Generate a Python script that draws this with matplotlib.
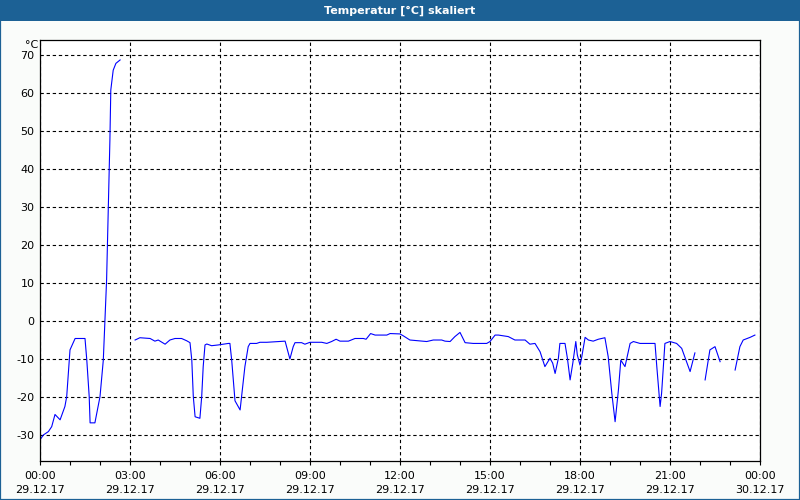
import matplotlib
matplotlib.use("Agg")
import matplotlib.pyplot as plt
from matplotlib.patches import Rectangle
import numpy as np

# Datos (horas desde 29.12.17 00:00, temperatura en °C)
# nan = hueco en la serie
horas = [0.00, 0.11, 0.28, 0.39, 0.50, 0.67, 0.83, 0.89, 1.00, 1.17,
         1.50, 1.56, 1.64, 1.67, 1.83, 2.00, 2.11, 2.22, 2.33, 2.36,
         2.44, 2.53, 2.67, 2.90,
         3.17, 3.33, 3.67, 3.83, 3.94, 4.17, 4.33, 4.50, 4.72, 4.89,
         5.00, 5.06, 5.11, 5.17, 5.33, 5.39, 5.44, 5.50, 5.56, 5.72,
         5.94, 6.28, 6.33, 6.39, 6.50, 6.67, 6.72, 6.83, 6.94, 7.00,
         7.22, 7.33, 7.56, 8.17, 8.22, 8.33, 8.44, 8.50, 8.72, 8.83,
         9.00, 9.39, 9.56, 9.72, 9.87, 10.00, 10.28, 10.50, 10.78, 10.87,
         11.02, 11.17, 11.56, 11.67, 12.00, 12.11, 12.33, 12.61, 12.89, 13.11,
         13.39, 13.50, 13.67, 13.83, 14.00, 14.17, 14.44, 14.89, 15.00, 15.17,
         15.28, 15.61, 15.83, 16.17, 16.33, 16.50, 16.67, 16.83, 17.00, 17.09,
         17.17, 17.28, 17.33, 17.50, 17.58, 17.67, 17.76, 17.86, 17.91, 18.00,
         18.06, 18.17, 18.28, 18.44, 18.61, 18.83, 18.94, 19.06, 19.17, 19.28,
         19.36, 19.50, 19.67, 19.78, 20.00, 20.50, 20.56, 20.67, 20.72, 20.83,
         21.00, 21.22, 21.39, 21.67, 21.83, 22.00,
         22.17, 22.33, 22.50, 22.67, 22.90,
         23.17, 23.33, 23.44, 23.67, 23.83]

temp = [-31.3, -30.0, -29.1, -27.8, -24.6, -26.0, -22.5, -19.9, -7.6, -4.6,
        -4.6, -10.3, -19.9, -26.8, -26.8, -19.9, -10.3, 10.8, 47.6, 60.8,
        66.0, 67.8, 68.7, np.nan,
        -5.0, -4.4, -4.6, -5.3, -5.0, -6.1, -5.0, -4.6, -4.6, -5.2,
        -5.7, -10.3, -19.9, -25.2, -25.6, -19.9, -12.0, -6.3, -6.05, -6.5,
        -6.3, -5.9, -5.9, -10.3, -21.0, -23.4, -19.9, -12.0, -6.75, -5.9,
        -5.9, -5.6, -5.6, -5.3, -6.75, -10.0, -6.75, -5.7, -5.7, -6.1,
        -5.6, -5.6, -5.9, -5.4, -4.8, -5.3, -5.3, -4.6, -4.6, -4.8,
        -3.3, -3.7, -3.7, -3.3, -3.4, -3.9, -5.0, -5.2, -5.4, -5.0,
        -5.0, -5.3, -5.4, -4.1, -3.0, -5.7, -5.9, -5.9, -5.4, -3.7,
        -3.7, -4.1, -5.0, -5.0, -6.1, -5.9, -8.1, -12.0, -9.8, -11.1,
        -13.8, -9.8, -5.9, -5.9, -9.8, -15.5, -11.1, -5.4, -8.9, -11.6,
        -9.4, -4.3, -5.0, -5.3, -4.8, -4.4, -9.4, -19.0, -26.5, -18.2,
        -10.3, -12.0, -5.9, -5.4, -5.9, -5.9, -12.0, -22.5, -19.0, -5.9,
        -5.4, -5.9, -7.2, -13.3, -8.4, np.nan,
        -15.5, -7.6, -6.75, -10.7, np.nan,
        -12.9, -6.75, -5.0, -4.3, -3.7]

ticks_x = [0, 3, 6, 9, 12, 15, 18, 21, 24]
etiquetas_x = ["00:00\n29.12.17", "03:00\n29.12.17", "06:00\n29.12.17",
               "09:00\n29.12.17", "12:00\n29.12.17", "15:00\n29.12.17",
               "18:00\n29.12.17", "21:00\n29.12.17", "00:00\n30.12.17"]
ticks_y = [-30, -20, -10, 0, 10, 20, 30, 40, 50, 60, 70]

azul = "#1c6195"
fondo = "#fafcfa"

fig = plt.figure(figsize=(8, 5), dpi=100, facecolor=fondo)
W, H = 800, 500

# barra de titulo
fig.add_artist(Rectangle((0, 1 - 21 / H), 1, 21 / H, transform=fig.transFigure,
                         facecolor=azul, edgecolor="none"))
fig.add_artist(Rectangle((0, 0), 1, 1, transform=fig.transFigure,
                         fill=False, edgecolor=azul, lw=1.6))
fig.text(0.5, 1 - 10.5 / H, "Temperatur [°C] skaliert", color="white",
         fontsize=8, fontweight="bold", ha="center", va="center")

ax = fig.add_axes([40 / W, 1 - 461 / H, 720 / W, 421 / H])
ax.set_facecolor("white")

ax.plot(horas, temp, color="#0000ff", lw=0.8)

ax.set_xlim(0, 24)
ax.set_ylim(-36.84, 73.95)

ax.set_xticks(ticks_x)
ax.set_xticklabels(etiquetas_x, fontsize=8, linespacing=1.5)
ax.set_xticks(range(0, 25), minor=True)
ax.set_yticks(ticks_y)
ax.set_yticklabels([str(v) for v in ticks_y], fontsize=8)

ax.tick_params(axis="x", which="both", direction="out", length=3, width=0.8,
               pad=4, color="black")
ax.tick_params(axis="y", length=0, pad=4)

ax.grid(True, which="major", color="black", lw=0.8, ls=(0, (3, 2.5)))

for s in ax.spines.values():
    s.set_color("black")
    s.set_linewidth(0.9)

fig.text(38 / W, 1 - 45 / H, "°C", fontsize=8, ha="right", va="center")

fig.savefig("out.png", dpi=100, facecolor=fondo)
